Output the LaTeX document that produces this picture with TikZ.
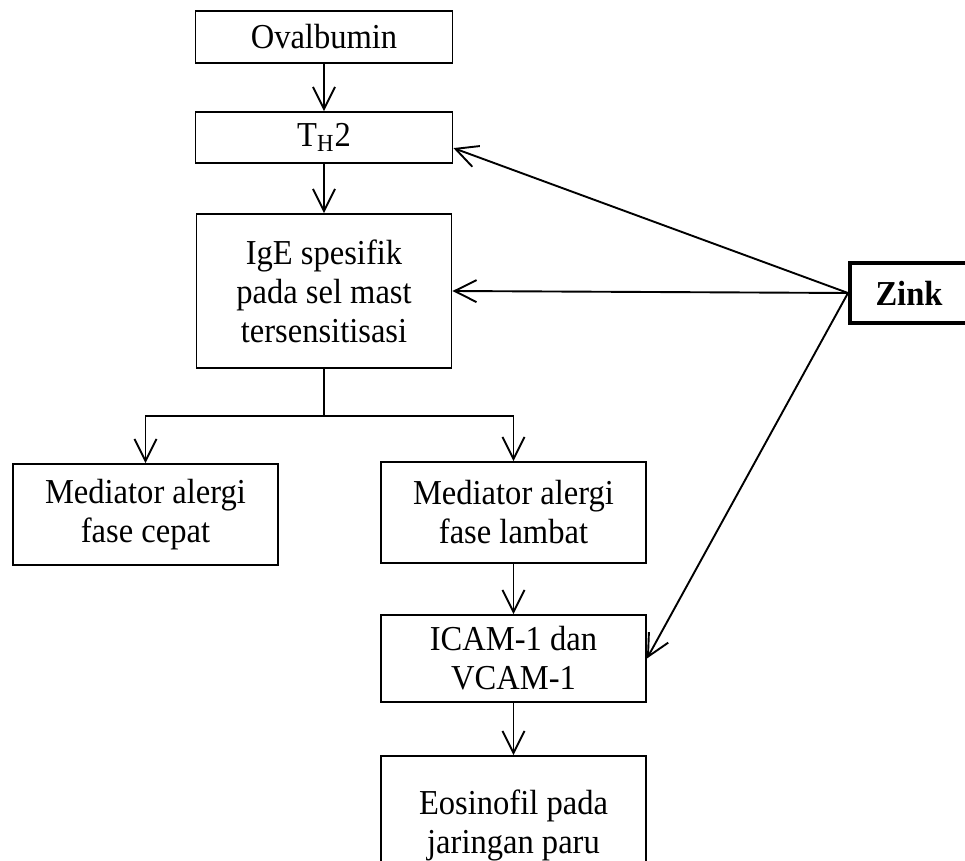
\documentclass[tikz,border=0pt]{standalone}
\usepackage{fontspec}
\setmainfont{Liberation Serif}[FakeStretch=0.93]
\usetikzlibrary{arrows.meta,calc}

\begin{document}
\begin{tikzpicture}[x=0.5pt,y=-0.5pt,>={Straight Barb[length=11pt,width=11pt]},line width=0.95pt,
  blok/.style={draw,align=center,inner sep=0pt,font=\fontsize{17.5}{19.5}\selectfont},
  zinkbox/.style={blok,line width=2pt,font=\fontsize{17.5}{19.5}\selectfont\bfseries}]
\useasboundingbox (0,0) rectangle (965,861);
% alur utama
\node[blok,minimum width=128.5pt,minimum height=26pt] (ova) at (324,37) {Ovalbumin};
\node[blok,minimum width=128.5pt,minimum height=25.5pt] (th) at (324,137.5) {T\textsubscript{H}2};
\node[blok,minimum width=127.5pt,minimum height=77pt] (ige) at (324,291) {IgE spesifik\\pada sel mast\\tersensitisasi};
\node[blok,minimum width=132.5pt,minimum height=50.5pt] (cepat) at (145.5,514.5) {Mediator alergi\\fase cepat};
\node[blok,minimum width=132.5pt,minimum height=50.5pt] (lambat) at (513.5,512.5) {Mediator alergi\\fase lambat};
\node[blok,minimum width=132.5pt,minimum height=43.5pt] (icam) at (513.5,658.5) {ICAM-1 dan\\VCAM-1};
\node[blok,minimum width=132.5pt,minimum height=69pt] (eos) at (513.5,825) {Eosinofil pada\\jaringan paru};
\node[zinkbox,minimum width=59pt,minimum height=30pt] (zink) at (909,293) {Zink};
\draw[->] (ova) -- (th);
\draw[->] (th) -- (ige);
\coordinate (cabang) at ($(ige.south)+(0,47)$);
\draw (ige.south) -- (cabang);
\draw[->] (cabang) -| (cepat.north);
\draw[->] (cabang) -| (lambat.north);
\draw[->] (lambat) -- (icam);
\draw[->] (icam) -- (eos);
% pengaruh zink
\draw[->] (zink.west) -- ($(th.south east)!.3!(th.north east)$);
\draw[->] (zink.west) -- (ige.east);
\draw[->] (zink.west) -- (icam.east);
\end{tikzpicture}
\end{document}
